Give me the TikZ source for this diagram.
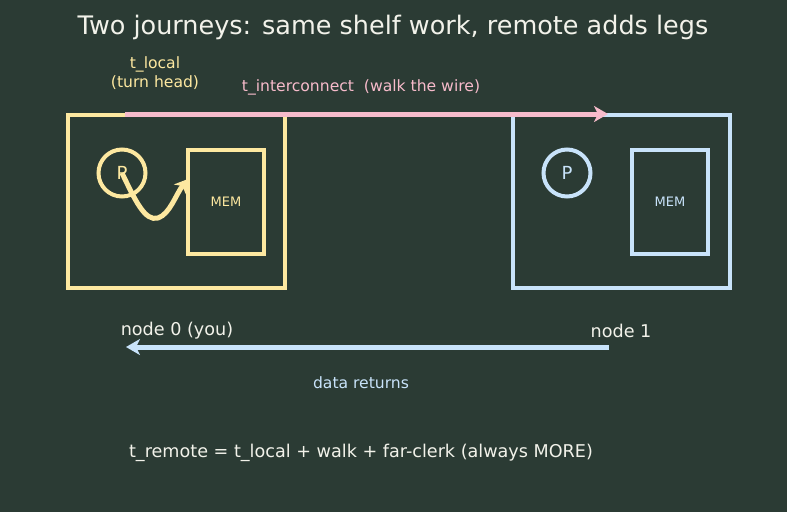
\documentclass[tikz,border=0pt]{standalone}
\usepackage{fontspec}
\setmainfont{DejaVu Sans}
\usetikzlibrary{arrows.meta}
\definecolor{bg}{HTML}{2B3B34}
\definecolor{yel}{HTML}{FDE8A0}
\definecolor{blu}{HTML}{C8E3FA}
\definecolor{pnk}{HTML}{F7BBCB}
\definecolor{txt}{HTML}{F2F2EA}
\begin{document}
\begin{tikzpicture}[x=1pt,y=-1pt,
  box/.style={draw,line width=4pt},
  lbl/.style={inner sep=0pt,font=\fontsize{15.6}{19}\selectfont},
  big/.style={inner sep=0pt,text=txt,font=\fontsize{17.6}{20}\selectfont},
  conn/.style={line width=5pt,-{Stealth[length=14pt,width=16pt,inset=4pt]}}]
\fill[bg] (0,0) rectangle (787,512);
\useasboundingbox (0,0) rectangle (787,512);
\node[inner sep=0pt,text=txt,font=\fontsize{25.5}{28}\selectfont] (title) at (393,27) {Two journeys: same shelf work, remote adds legs};
% left node
\node[box,yel,minimum width=217pt,minimum height=173pt] (n0) at (176.5,201.5) {};
\node[draw=yel,line width=4pt,circle,minimum size=47pt,inner sep=0pt,text=yel,font=\fontsize{18}{20}\selectfont] (p0) at (122,173) {P};
\node[box,yel,minimum width=76pt,minimum height=104pt,text=yel,font=\fontsize{13}{15}\selectfont] (m0) at (226,202) {MEM};
% right node
\node[box,blu,minimum width=217pt,minimum height=173pt] (n1) at (621.5,201.5) {};
\node[draw=blu,line width=4pt,circle,minimum size=47pt,inner sep=0pt,text=blu,font=\fontsize{18}{20}\selectfont] (p1) at (567,173) {P};
\node[box,blu,minimum width=76pt,minimum height=104pt,text=blu,font=\fontsize{13}{15}\selectfont] (m1) at (670,202) {MEM};
% local squiggle
\coordinate (sq) at (188,179);
\draw[yel,line width=5pt,-{Stealth[length=13pt,width=15pt,inset=4pt]}] (p0.center) .. controls (135,200) and (145,222) .. (158,218) .. controls (170,214) and (176,194) .. (sq);
% interconnect
\coordinate (ws) at (125,114);
\coordinate (we) at (608,114);
\draw[pnk,conn] (ws) -- (we);
\node[lbl,text=yel,align=center] (tl) at (155,73) {t\_local\\(turn head)};
\node[lbl,text=pnk] (ti) at (361,87) {t\_interconnect\ \ (walk the wire)};
\node[big] (l0) at (177,331) {node 0 (you)};
\node[big] (l1) at (621,331) {node 1};
\coordinate (rs) at (609,347);
\coordinate (re) at (126,347);
\draw[blu,conn] (rs) -- (re);
\node[lbl,text=blu] (dr) at (361,383) {data returns};
\node[big] (eq) at (361,453) {t\_remote = t\_local + walk + far-clerk (always MORE)};
\end{tikzpicture}
\end{document}
